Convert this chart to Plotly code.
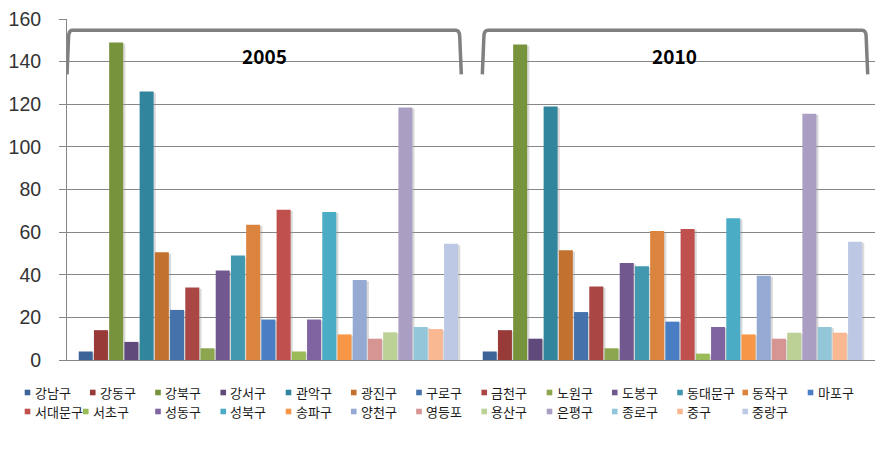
import plotly.graph_objects as go

years = ["2005", "2010"]
districts = ["강남구", "강동구", "강북구", "강서구", "관악구", "광진구", "구로구", "금천구", "노원구",
             "도봉구", "동대문구", "동작구", "마포구", "서대문구", "서초구", "성동구", "성북구", "송파구",
             "양천구", "영등포", "용산구", "은평구", "종로구", "중구", "중랑구"]
values_2005 = [4, 14, 149, 8.5, 126, 50.5, 23.5, 34, 5.5, 42, 49, 63.5, 19, 70.5, 4, 19, 69.5, 12, 37.5, 10, 13, 118.5, 15.5, 14.5, 54.5]
values_2010 = [4, 14, 148, 10, 119, 51.5, 22.5, 34.5, 5.5, 45.5, 44, 60.5, 18, 61.5, 3, 15.5, 66.5, 12, 39.5, 10, 12.8, 115.5, 15.5, 12.8, 55.5]
colors = ["#3C6499", "#983A37", "#77933C", "#604A7B", "#31859C", "#C3712F", "#4572AB", "#AA4643",
          "#8CA64F", "#71588F", "#4298AF", "#DB843D", "#4A7EC4", "#C0504D", "#9BBB59", "#8064A2",
          "#4BACC6", "#F79646", "#94AAD3", "#D69593", "#BCD195", "#AA9FC3", "#93C6D8", "#F9B892", "#BDC9E4"]

FONT = "Noto Sans CJK KR"
TICK_FONT = "Liberation Sans"
PAGE_OFF = 8              # default <body> margin of the generated page
W, H = 889 - PAGE_OFF, 454 - PAGE_OFF
ML, MR, MT, MB = 67 - PAGE_OFF, 14, 19 - PAGE_OFF, 94
PW = W - ML - MR          # plot width in px
PH = H - MT - MB          # plot height in px
CAT_PX = PW / 2           # pixels per category

n = len(districts)
group_w = 0.942
step = group_w / n
bar_w = step * 0.92
shadow_dx = 2.2 / CAT_PX

fig = go.Figure()

# soft drop shadows (drawn first, behind the bars)
for i, (v05, v10) in enumerate(zip(values_2005, values_2010)):
    off = -group_w / 2 + i * step
    fig.add_trace(go.Bar(x=[0, 1], y=[max(v05 - 0.6, 0), max(v10 - 0.6, 0)],
                         offset=off + shadow_dx, width=bar_w,
                         marker=dict(color="rgba(150,150,150,0.35)", line=dict(width=0)),
                         showlegend=False, hoverinfo="skip"))

for i, (name, v05, v10, c) in enumerate(zip(districts, values_2005, values_2010, colors)):
    off = -group_w / 2 + i * step
    fig.add_trace(go.Bar(name=name, x=[0, 1], y=[v05, v10], offset=off, width=bar_w,
                         marker=dict(color=c, line=dict(width=0)), showlegend=False))

# bracket decorations (data coordinates)
def bracket(x0, x1, ylo, yhi, r=0.014, ry=2.6):
    return (f"M {x0},{ylo} L {x0 + 0.004},{yhi - ry} Q {x0 + 0.005},{yhi} {x0 + r},{yhi} "
            f"L {x1 - r},{yhi} Q {x1 - 0.005},{yhi} {x1 - 0.004},{yhi - ry} L {x1},{ylo}")

for x0, x1 in [(-0.5, 0.476), (0.528, 1.482)]:
    fig.add_shape(type="path", xref="x", yref="y", path=bracket(x0, x1, 134, 154.7),
                  line=dict(color="#808080", width=3.5), layer="above")

for k, (yr, shift) in enumerate(zip(years, [-5, 1])):
    fig.add_annotation(x=k, y=143, text=f"<b>{yr}</b>", showarrow=False, xshift=shift,
                       font=dict(family=FONT, size=19, color="#000000"))

# legend (two rows, Excel-style compact swatches)
per_row = 13
for i, (name, c) in enumerate(zip(districts, colors)):
    row, col = divmod(i, per_row)
    px = 27.5 + 65.25 * col
    if row == 1 and col == 1:
        px -= 7
    py = 392.5 + 19 * row
    xp = (px - PAGE_OFF - ML) / PW
    yp = (H - MB - (py - PAGE_OFF)) / PH
    fig.add_shape(type="rect", xref="paper", yref="paper", xsizemode="pixel", ysizemode="pixel",
                  xanchor=xp, yanchor=yp, x0=-2.8, x1=2.8, y0=-2.8, y1=2.8,
                  fillcolor=c, line=dict(width=0))
    fig.add_annotation(xref="paper", yref="paper", x=xp, y=yp, xshift=5, text=name,
                       showarrow=False, xanchor="left", yanchor="middle",
                       font=dict(family=FONT, size=13, color="#1a1a1a"))

fig.update_layout(
    width=W, height=H,
    margin=dict(l=ML, r=MR, t=MT, b=MB),
    paper_bgcolor="white", plot_bgcolor="white",
    barmode="overlay",
    font=dict(family=FONT, size=12, color="#000000"),
    showlegend=False,
    xaxis=dict(type="linear", showticklabels=False, ticks="", showgrid=False, showline=True,
               linecolor="#868686", linewidth=1, range=[-0.5, 1.5], zeroline=False, fixedrange=True),
    yaxis=dict(range=[0, 160], dtick=20, showgrid=True, gridcolor="#868686", gridwidth=1,
               showline=True, linecolor="#868686", linewidth=1, ticks="outside", ticklen=7,
               tickcolor="#868686", zeroline=False, ticklabelstandoff=14,
               ticklabeloverflow="allow", automargin=False,
               tickfont=dict(family=TICK_FONT, size=19.5, color="#333333")),
)

fig.write_html("out.html")
